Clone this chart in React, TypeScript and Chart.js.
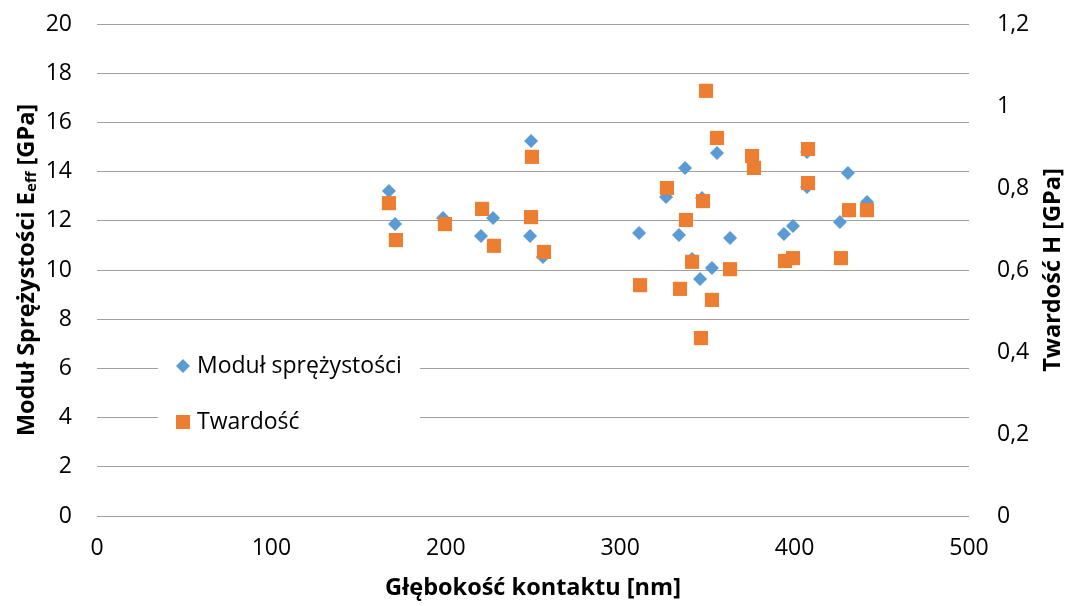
import { useEffect, useRef } from "react";
import { Chart, registerables } from "chart.js";

Chart.register(...registerables);

const modulusDepth = [167.4, 170.9, 198.4, 220.2, 227.1, 248.9, 248.3, 255.7, 310.8, 326.3, 337.2, 333.7, 341.2, 345.8, 346.9, 352.6, 355.5, 363.0, 375.6, 393.9, 399.1, 407.1, 407.1, 426.0, 430.6, 441.5];
const modulusValues = [13.21, 11.87, 12.11, 11.38, 12.11, 15.24, 11.38, 10.53, 11.5, 12.97, 14.15, 11.42, 10.45, 9.63, 12.93, 10.08, 14.76, 11.3, 14.55, 11.46, 11.79, 13.37, 14.8, 11.95, 13.94, 12.76];

const hardnessDepth = [167.4, 171.4, 199.5, 220.8, 227.6, 249.4, 248.9, 256.3, 311.4, 326.8, 334.3, 337.7, 341.2, 346.3, 347.5, 349.2, 352.6, 355.5, 363.0, 375.6, 376.7, 394.5, 399.1, 407.7, 407.7, 426.6, 431.2, 441.5];
const hardnessValues = [0.763, 0.673, 0.712, 0.749, 0.659, 0.876, 0.729, 0.644, 0.563, 0.8, 0.554, 0.722, 0.62, 0.434, 0.768, 1.037, 0.527, 0.922, 0.602, 0.878, 0.849, 0.622, 0.629, 0.895, 0.812, 0.629, 0.746, 0.746];

const seriesNames = ["Moduł sprężystości", "Twardość"];
const xTitle = "Głębokość kontaktu [nm]";
const leftTitleMain = "Moduł Sprężystości E";
const leftTitleSub = "eff";
const leftTitleEnd = " [GPa]";
const rightTitle = "Twardość H [GPa]";

const BLUE = "#5B9BD5";
const ORANGE = "#ED7D31";
const FONT = "'Open Sans', sans-serif";

const overlay = {
  id: "overlay",
  beforeDatasetsDraw(chart: any) {
    const ctx = chart.ctx as CanvasRenderingContext2D;
    ctx.save();
    ctx.fillStyle = "#ffffff";
    ctx.fillRect(158, 344, 262, 100);
    ctx.fillStyle = BLUE;
    ctx.beginPath();
    ctx.moveTo(183 - 7, 366);
    ctx.lineTo(183, 366 - 7);
    ctx.lineTo(183 + 7, 366);
    ctx.lineTo(183, 366 + 7);
    ctx.closePath();
    ctx.fill();
    ctx.fillStyle = ORANGE;
    ctx.fillRect(176, 415, 14, 14);
    ctx.fillStyle = "#000";
    ctx.font = `23px ${FONT}`;
    ctx.textAlign = "left";
    ctx.textBaseline = "middle";
    ctx.fillText(seriesNames[0], 197, 366);
    ctx.fillText(seriesNames[1], 197, 422);
    ctx.restore();
  },
  afterDraw(chart: any) {
    const ctx = chart.ctx as CanvasRenderingContext2D;
    const area = chart.chartArea;
    const cy = (area.top + area.bottom) / 2;
    const bigFont = `bold 23.5px ${FONT}`;
    const subFont = `bold 15px ${FONT}`;
    ctx.save();
    ctx.fillStyle = "#000";
    ctx.textBaseline = "middle";
    ctx.font = bigFont;
    ctx.textAlign = "center";
    ctx.fillText(xTitle, (area.left + area.right) / 2, 588);
    ctx.save();
    ctx.translate(1053, cy);
    ctx.rotate(-Math.PI / 2);
    ctx.fillText(rightTitle, 0, 0);
    ctx.restore();
    ctx.save();
    ctx.translate(27, cy);
    ctx.rotate(-Math.PI / 2);
    ctx.textAlign = "left";
    ctx.font = bigFont;
    const w1 = ctx.measureText(leftTitleMain).width;
    const w3 = ctx.measureText(leftTitleEnd).width;
    ctx.font = subFont;
    const w2 = ctx.measureText(leftTitleSub).width;
    let x = -(w1 + w2 + w3) / 2;
    ctx.font = bigFont;
    ctx.fillText(leftTitleMain, x, 0);
    x += w1;
    ctx.font = subFont;
    ctx.fillText(leftTitleSub, x, 5);
    x += w2;
    ctx.font = bigFont;
    ctx.fillText(leftTitleEnd, x, 0);
    ctx.restore();
    ctx.restore();
  },
};

export default function App() {
  const ref = useRef<HTMLCanvasElement | null>(null);

  useEffect(() => {
    if (!ref.current) return;
    const chart = new Chart(ref.current, {
      type: "scatter",
      data: {
        datasets: [
          {
            label: seriesNames[0],
            data: modulusDepth.map((x, i) => ({ x, y: modulusValues[i] })),
            yAxisID: "y",
            pointStyle: "rectRot",
            pointRadius: 7,
            pointHoverRadius: 7,
            backgroundColor: BLUE,
            borderColor: BLUE,
            borderWidth: 0,
            order: 1,
          },
          {
            label: seriesNames[1],
            data: hardnessDepth.map((x, i) => ({ x, y: hardnessValues[i] })),
            yAxisID: "y1",
            pointStyle: "rect",
            pointRadius: 10,
            pointHoverRadius: 10,
            backgroundColor: ORANGE,
            borderColor: ORANGE,
            borderWidth: 0,
            order: 0,
          },
        ],
      },
      options: {
        animation: false,
        responsive: true,
        maintainAspectRatio: false,
        layout: { padding: { top: 24, left: 0, right: 0, bottom: 0 } },
        plugins: {
          legend: { display: false },
          tooltip: { enabled: false },
        },
        scales: {
          x: {
            type: "linear",
            min: 0,
            max: 500,
            ticks: {
              stepSize: 100,
              color: "#000",
              font: { family: FONT, size: 23 },
              padding: 19,
            },
            grid: { display: false, drawTicks: false },
            border: { display: false },
            afterFit: (s: any) => {
              s.height = 90;
              s.paddingLeft = 0;
              s.paddingRight = 0;
            },
          },
          y: {
            position: "left",
            min: 0,
            max: 20,
            ticks: {
              stepSize: 2,
              color: "#000",
              font: { family: FONT, size: 23 },
              padding: 25,
            },
            grid: { color: "#a0a0a0", lineWidth: 1, drawTicks: false },
            border: { display: false },
            afterFit: (s: any) => {
              s.width = 97;
              s.paddingTop = 0;
              s.paddingBottom = 0;
            },
          },
          y1: {
            position: "right",
            min: 0,
            max: 1.2,
            ticks: {
              stepSize: 0.2,
              color: "#000",
              font: { family: FONT, size: 23 },
              padding: 28,
              callback: (v: any) => String(Math.round(Number(v) * 10) / 10).replace(".", ","),
            },
            grid: { display: false, drawTicks: false },
            border: { display: false },
            afterFit: (s: any) => {
              s.width = 101;
              s.paddingTop = 0;
              s.paddingBottom = 0;
            },
          },
        },
      },
      plugins: [overlay],
    });
    return () => chart.destroy();
  }, []);

  return (
    <div style={{ position: "absolute", left: 0, top: 0, width: 1070, height: 606, background: "#fff" }}>
      <canvas ref={ref} />
    </div>
  );
}
